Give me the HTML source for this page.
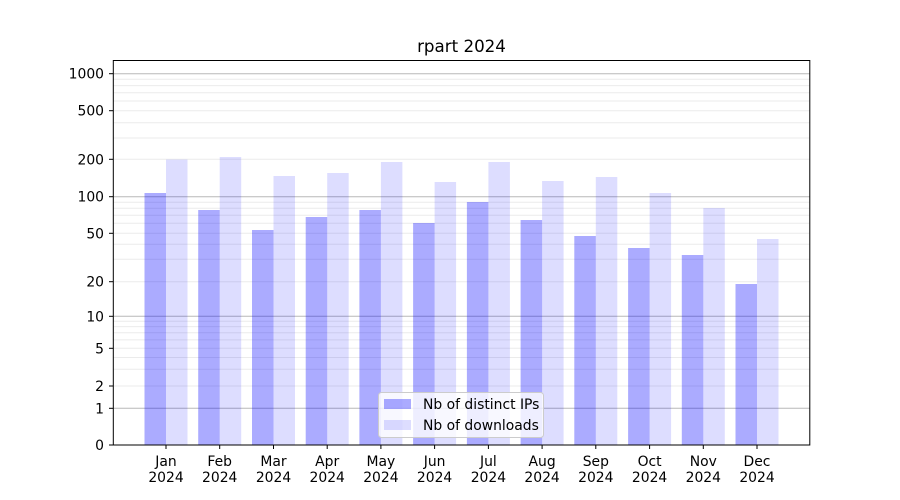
<!DOCTYPE html>
<html><head><meta charset="utf-8"><style>
html,body{margin:0;padding:0;background:#fff;}
svg{display:block;font-family:"DejaVu Sans","Liberation Sans",sans-serif;}
</style></head><body>
<svg width="900" height="500" viewBox="0 0 900 500" xmlns="http://www.w3.org/2000/svg">
<rect width="900" height="500" fill="#fff"/>
<g stroke="#ebebeb" stroke-width="1">
<line x1="113" x2="810" y1="138" y2="138"/><line x1="113" x2="810" y1="122.7" y2="122.7"/>
<line x1="113" x2="810" y1="101" y2="101"/><line x1="113" x2="810" y1="92.7" y2="92.7"/>
<line x1="113" x2="810" y1="85.6" y2="85.6"/><line x1="113" x2="810" y1="79.3" y2="79.3"/>
<line x1="113" x2="810" y1="110.7" y2="110.7"/><line x1="113" x2="810" y1="159.3" y2="159.3"/>
<line x1="113" x2="810" y1="259.2" y2="259.2"/><line x1="113" x2="810" y1="244.3" y2="244.3"/>
<line x1="113" x2="810" y1="223.2" y2="223.2"/><line x1="113" x2="810" y1="215.2" y2="215.2"/>
<line x1="113" x2="810" y1="208.3" y2="208.3"/><line x1="113" x2="810" y1="202.2" y2="202.2"/>
<line x1="113" x2="810" y1="233.3" y2="233.3"/><line x1="113" x2="810" y1="281.7" y2="281.7"/>
<line x1="113" x2="810" y1="369.3" y2="369.3"/><line x1="113" x2="810" y1="357.5" y2="357.5"/>
<line x1="113" x2="810" y1="339.9" y2="339.9"/><line x1="113" x2="810" y1="332.8" y2="332.8"/>
<line x1="113" x2="810" y1="326.6" y2="326.6"/><line x1="113" x2="810" y1="321.2" y2="321.2"/>
<line x1="113" x2="810" y1="348.3" y2="348.3"/><line x1="113" x2="810" y1="386" y2="386"/>
</g>
<g stroke="#b8b8b8" stroke-width="1">
<line x1="113" x2="810" y1="73.7" y2="73.7"/><line x1="113" x2="810" y1="196.7" y2="196.7"/>
<line x1="113" x2="810" y1="316.3" y2="316.3"/><line x1="113" x2="810" y1="408.3" y2="408.3"/>
</g>
<g fill="#0000ff" fill-opacity="0.33">
<rect x="144.5" y="193" width="21.5" height="252"/>
<rect x="198.2" y="210" width="21.5" height="235"/>
<rect x="252" y="230" width="21.5" height="215"/>
<rect x="305.7" y="217" width="21.5" height="228"/>
<rect x="359.4" y="210" width="21.5" height="235"/>
<rect x="413.1" y="223" width="21.5" height="222"/>
<rect x="466.9" y="202" width="21.5" height="243"/>
<rect x="520.6" y="220" width="21.5" height="225"/>
<rect x="574.3" y="236" width="21.5" height="209"/>
<rect x="628.1" y="248" width="21.5" height="197"/>
<rect x="681.8" y="255" width="21.5" height="190"/>
<rect x="735.5" y="284" width="21.5" height="161"/>
</g>
<g fill="#0000ff" fill-opacity="0.135">
<rect x="166" y="159.5" width="21.5" height="285.5"/>
<rect x="219.7" y="157" width="21.5" height="288"/>
<rect x="273.5" y="176" width="21.5" height="269"/>
<rect x="327.2" y="173" width="21.5" height="272"/>
<rect x="380.9" y="162" width="21.5" height="283"/>
<rect x="434.6" y="182" width="21.5" height="263"/>
<rect x="488.4" y="162" width="21.5" height="283"/>
<rect x="542.1" y="181" width="21.5" height="264"/>
<rect x="595.8" y="177" width="21.5" height="268"/>
<rect x="649.6" y="193" width="21.5" height="252"/>
<rect x="703.3" y="208" width="21.5" height="237"/>
<rect x="757" y="239" width="21.5" height="206"/>
</g>
<rect x="113.3" y="60.5" width="696.5" height="384.5" fill="none" stroke="#000" stroke-width="1"/>
<g stroke="#000" stroke-width="1">
<line x1="109" x2="113" y1="73.7" y2="73.7"/><line x1="109" x2="113" y1="110.7" y2="110.7"/>
<line x1="109" x2="113" y1="159.3" y2="159.3"/><line x1="109" x2="113" y1="196.7" y2="196.7"/>
<line x1="109" x2="113" y1="233.3" y2="233.3"/><line x1="109" x2="113" y1="281.7" y2="281.7"/>
<line x1="109" x2="113" y1="316.3" y2="316.3"/><line x1="109" x2="113" y1="348.3" y2="348.3"/>
<line x1="109" x2="113" y1="386" y2="386"/><line x1="109" x2="113" y1="408.3" y2="408.3"/>
<line x1="109" x2="113" y1="445" y2="445"/>
<line x1="166" x2="166" y1="445" y2="449"/><line x1="219.7" x2="219.7" y1="445" y2="449"/>
<line x1="273.5" x2="273.5" y1="445" y2="449"/><line x1="327.2" x2="327.2" y1="445" y2="449"/>
<line x1="380.9" x2="380.9" y1="445" y2="449"/><line x1="434.6" x2="434.6" y1="445" y2="449"/>
<line x1="488.4" x2="488.4" y1="445" y2="449"/><line x1="542.1" x2="542.1" y1="445" y2="449"/>
<line x1="595.8" x2="595.8" y1="445" y2="449"/><line x1="649.6" x2="649.6" y1="445" y2="449"/>
<line x1="703.3" x2="703.3" y1="445" y2="449"/><line x1="757" x2="757" y1="445" y2="449"/>
</g>
<g font-size="13.9" fill="#000" text-anchor="end">
<text x="104" y="78.7">1000</text><text x="104" y="115.7">500</text>
<text x="104" y="164.3">200</text><text x="104" y="201.7">100</text>
<text x="104" y="238.3">50</text><text x="104" y="286.7">20</text>
<text x="104" y="321.3">10</text><text x="104" y="353.3">5</text>
<text x="104" y="391">2</text><text x="104" y="413.3">1</text>
<text x="104" y="450">0</text>
</g>
<g font-size="13.9" fill="#000" text-anchor="middle">
<text x="166" y="466">Jan</text><text x="166" y="482">2024</text>
<text x="219.7" y="466">Feb</text><text x="219.7" y="482">2024</text>
<text x="273.5" y="466">Mar</text><text x="273.5" y="482">2024</text>
<text x="327.2" y="466">Apr</text><text x="327.2" y="482">2024</text>
<text x="380.9" y="466">May</text><text x="380.9" y="482">2024</text>
<text x="434.6" y="466">Jun</text><text x="434.6" y="482">2024</text>
<text x="488.4" y="466">Jul</text><text x="488.4" y="482">2024</text>
<text x="542.1" y="466">Aug</text><text x="542.1" y="482">2024</text>
<text x="595.8" y="466">Sep</text><text x="595.8" y="482">2024</text>
<text x="649.6" y="466">Oct</text><text x="649.6" y="482">2024</text>
<text x="703.3" y="466">Nov</text><text x="703.3" y="482">2024</text>
<text x="757" y="466">Dec</text><text x="757" y="482">2024</text>
<text x="461.5" y="52" font-size="16.7">rpart 2024</text>
</g>
<rect x="378.5" y="392.5" width="165" height="45" rx="3" fill="#fff" fill-opacity="0.8" stroke="#cccccc"/>
<rect x="384" y="399" width="27" height="10" fill="#0000ff" fill-opacity="0.33"/>
<rect x="384" y="420" width="27" height="10" fill="#0000ff" fill-opacity="0.135"/>
<g font-size="13.9" fill="#000">
<text x="423" y="409">Nb of distinct IPs</text>
<text x="423" y="430">Nb of downloads</text>
</g>
</svg>
</body></html>
